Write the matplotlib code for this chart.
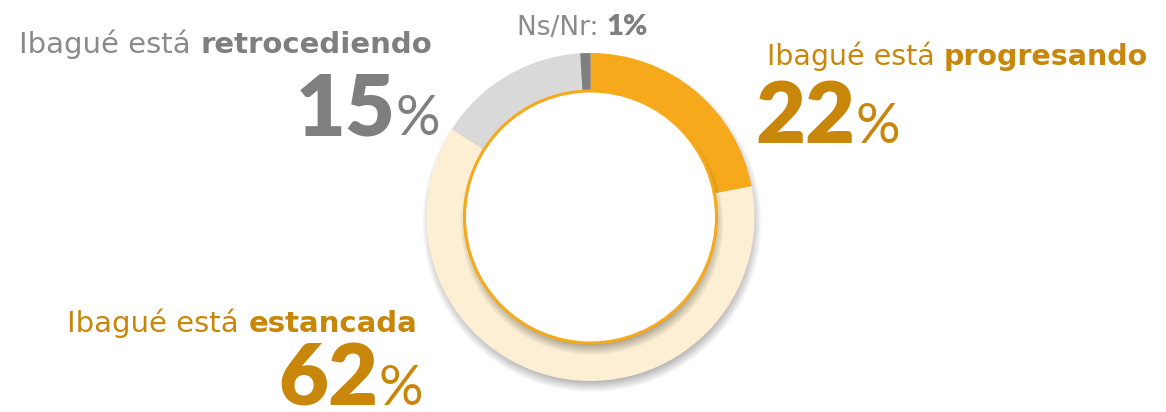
import numpy as np
import matplotlib
matplotlib.use("Agg")
import matplotlib.pyplot as plt
from matplotlib.patches import Circle

# ---- data ----
categories = ["Ibagué está progresando", "Ibagué está estancada",
              "Ibagué está retrocediendo", "Ns/Nr"]
values = [22, 62, 15, 1]
slice_colors = ["#F6A91B", "#FDEFD3", "#D9D9D9", "#7F7F7F"]

W, H = 1166, 412
fig = plt.figure(figsize=(W / 100, H / 100), dpi=100)
ax = fig.add_axes([0, 0, 1, 1])

FONT = ["DejaVu Sans"]
NUMFONT = ["Lato", "DejaVu Sans"]
ORANGE_T = "#C8860A"
GRAY_T = "#7F7F7F"
GRAY_L = "#8A8A8A"

cx, cy = 590.5, H - 217          # donut centre (pixel units, y up)
R_out, R_in = 164, 126

# ---- shadows (image layers) ----
yy, xx = np.mgrid[0:H, 0:W]
yy = H - yy  # y up


def shadow(ccx, ccy, r, blur, strength):
    d = np.hypot(xx - ccx, yy - ccy)
    a = np.clip((r + blur / 2 - d) / blur, 0, 1) * strength
    img = np.zeros((H, W, 4))
    img[..., :3] = 0.25
    img[..., 3] = a
    return img


ax.imshow(shadow(cx + 1, cy - 5, R_out, 12, 0.4), extent=(0, W, 0, H),
          origin="upper", zorder=0, interpolation="bilinear")

ax.pie(values, colors=slice_colors, startangle=90, counterclock=False,
       center=(cx, cy), radius=R_out,
       wedgeprops=dict(width=R_out - R_in, linewidth=0), frame=True)

ax.imshow(shadow(cx + 1, cy - 6, R_in, 12, 0.45), extent=(0, W, 0, H),
          origin="upper", zorder=3, interpolation="bilinear")
ax.add_patch(Circle((cx, cy), R_in, facecolor="white", edgecolor="#F6A91B",
                    linewidth=2.2, zorder=4))

ax.set_xlim(0, W)
ax.set_ylim(0, H)
ax.set_aspect("auto")
ax.axis("off")

renderer = fig.canvas.get_renderer()


def rich(x, y_pix, pieces, ha="left"):
    texts, widths = [], []
    for s, size, weight, color, fam in pieces:
        t = ax.text(0, H - y_pix, s, fontsize=size, fontweight=weight,
                    color=color, va="baseline", ha="left", family=fam, zorder=6)
        bb = t.get_window_extent(renderer)
        texts.append(t)
        widths.append(bb.width)
    total = sum(widths)
    start = x if ha == "left" else (x - total if ha == "right" else x - total / 2)
    for t, w in zip(texts, widths):
        t.set_x(start)
        start += w


# retrocediendo (top-left)
rich(432, 53, [("Ibagué está ", 21, "normal", GRAY_L, FONT),
               ("retrocediendo", 21, "bold", GRAY_T, FONT)], ha="right")
rich(440, 135, [(f"{values[2]}", 62, "heavy", GRAY_T, NUMFONT),
                ("%", 40, "normal", GRAY_T, NUMFONT)], ha="right")

# Ns/Nr (top)
rich(517, 35, [("Ns/Nr: ", 19, "normal", GRAY_L, FONT),
               (f"{values[3]}%", 21, "heavy", GRAY_T, NUMFONT)])

# progresando (top-right)
rich(1148, 65, [("Ibagué está ", 20.5, "normal", ORANGE_T, FONT),
                ("progresando", 20.5, "bold", ORANGE_T, FONT)], ha="right")
rich(755, 143, [(f"{values[0]}", 62, "heavy", ORANGE_T, NUMFONT),
                ("%", 40, "normal", ORANGE_T, NUMFONT)])

# estancada (bottom-left)
rich(417, 332, [("Ibagué está ", 21, "normal", ORANGE_T, FONT),
                ("estancada", 21, "bold", ORANGE_T, FONT)], ha="right")
rich(423, 405, [(f"{values[1]}", 62, "heavy", ORANGE_T, NUMFONT),
                ("%", 40, "normal", ORANGE_T, NUMFONT)], ha="right")

fig.savefig("out.png", dpi=100)
